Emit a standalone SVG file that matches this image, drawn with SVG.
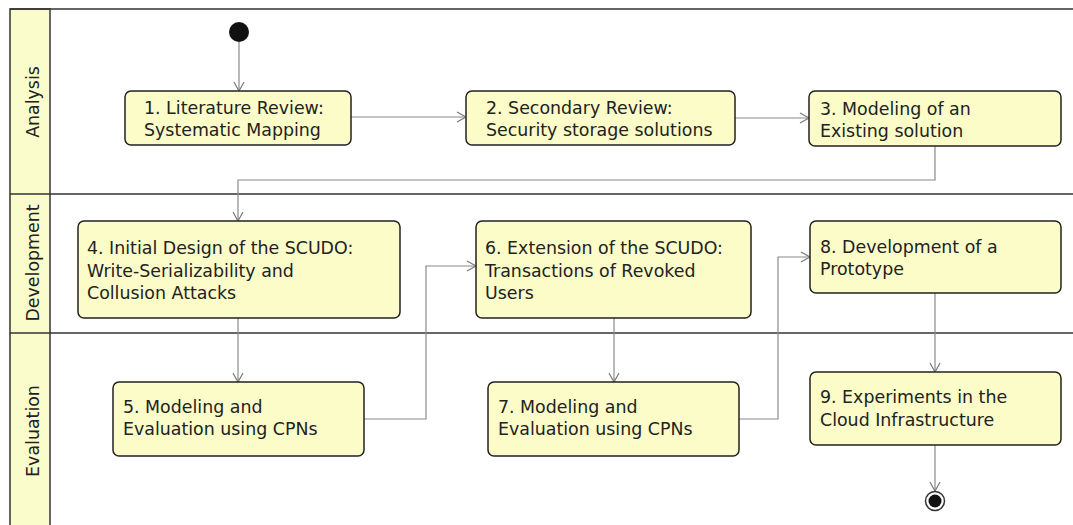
<svg xmlns="http://www.w3.org/2000/svg" width="1073" height="525" viewBox="0 0 1073 525">
  <style>
    .lane-line { stroke: #333; stroke-width: 1.5; fill: none; }
    .lane-head { fill: #FAFCCB; stroke: #333; stroke-width: 1.5; }
    .lane-label { font-family: "DejaVu Sans", "Liberation Sans", sans-serif; font-size: 17.4px; fill: #222; text-anchor: middle; }
    .act rect { fill: #FBFCC8; stroke: #222; stroke-width: 1.5; }
    .act text { font-family: "DejaVu Sans", "Liberation Sans", sans-serif; font-size: 17.4px; fill: #222; }
    .flow { stroke: #8a8a8a; stroke-width: 1.2; fill: none; marker-end: url(#open-arrow); }
  </style>
  <defs>
    <marker id="open-arrow" markerWidth="12" markerHeight="12" refX="10" refY="6" orient="auto" markerUnits="userSpaceOnUse">
      <path d="M1,1 L10,6 L1,11" fill="none" stroke="#777" stroke-width="1.2"/>
    </marker>
  </defs>
  <rect width="1073" height="525" fill="#ffffff"/>

  <!-- swimlanes -->
  <g id="lanes">
    <rect class="lane-head" x="10" y="9" width="40" height="530"/>
    <line class="lane-line" x1="10" y1="9" x2="1073" y2="9"/>
    <line class="lane-line" x1="10" y1="194" x2="1073" y2="194"/>
    <line class="lane-line" x1="10" y1="333" x2="1073" y2="333"/>
    <text class="lane-label" transform="translate(38.5,102) rotate(-90)">Analysis</text>
    <text class="lane-label" transform="translate(38.5,263) rotate(-90)">Development</text>
    <text class="lane-label" transform="translate(38.5,431) rotate(-90)">Evaluation</text>
  </g>

  <!-- control flow -->
  <g id="connectors">
    <path class="flow" d="M239,42 V91"/>
    <path class="flow" d="M351,117 H466"/>
    <path class="flow" d="M735,118 H809"/>
    <path class="flow" d="M935,146 V180 H238 V221"/>
    <path class="flow" d="M238,318 V382"/>
    <path class="flow" d="M364,419 H426 V266 H476"/>
    <path class="flow" d="M614,318 V382"/>
    <path class="flow" d="M739,419 H778 V257 H810"/>
    <path class="flow" d="M935,293 V372"/>
    <path class="flow" d="M935,445 V491"/>
  </g>

  <g id="start">
    <circle cx="239" cy="32" r="10" fill="#111"/>
  </g>

  <g id="a1" class="act">
    <rect x="125" y="91" width="226" height="54" rx="6"/>
    <text x="144" y="114">1. Literature Review:</text>
    <text x="144" y="136">Systematic Mapping</text>
  </g>
  <g id="a2" class="act">
    <rect x="466" y="91" width="269" height="54" rx="6"/>
    <text x="486" y="114">2. Secondary Review:</text>
    <text x="486" y="136">Security storage solutions</text>
  </g>
  <g id="a3" class="act">
    <rect x="809" y="91" width="252" height="55" rx="6"/>
    <text x="820" y="115">3. Modeling of an</text>
    <text x="820" y="137">Existing solution</text>
  </g>
  <g id="a4" class="act">
    <rect x="78" y="221" width="322" height="97" rx="6"/>
    <text x="87" y="254">4. Initial Design of the SCUDO:</text>
    <text x="87" y="277">Write-Serializability and</text>
    <text x="87" y="299">Collusion Attacks</text>
  </g>
  <g id="a5" class="act">
    <rect x="113" y="382" width="251" height="74" rx="6"/>
    <text x="123" y="413">5. Modeling and</text>
    <text x="123" y="435">Evaluation using CPNs</text>
  </g>
  <g id="a6" class="act">
    <rect x="476" y="221" width="275" height="97" rx="6"/>
    <text x="485" y="254">6. Extension of the SCUDO:</text>
    <text x="485" y="277">Transactions of Revoked</text>
    <text x="485" y="299">Users</text>
  </g>
  <g id="a7" class="act">
    <rect x="488" y="382" width="251" height="74" rx="6"/>
    <text x="498" y="413">7. Modeling and</text>
    <text x="498" y="435">Evaluation using CPNs</text>
  </g>
  <g id="a8" class="act">
    <rect x="810" y="221" width="251" height="72" rx="6"/>
    <text x="820" y="253">8. Development of a</text>
    <text x="820" y="275">Prototype</text>
  </g>
  <g id="a9" class="act">
    <rect x="810" y="372" width="251" height="73" rx="6"/>
    <text x="820" y="403">9. Experiments in the</text>
    <text x="820" y="426">Cloud Infrastructure</text>
  </g>

  <g id="end">
    <circle cx="935" cy="501" r="9.5" fill="#fff" stroke="#333" stroke-width="1.5"/>
    <circle cx="935" cy="501" r="6.5" fill="#111"/>
  </g>
</svg>
